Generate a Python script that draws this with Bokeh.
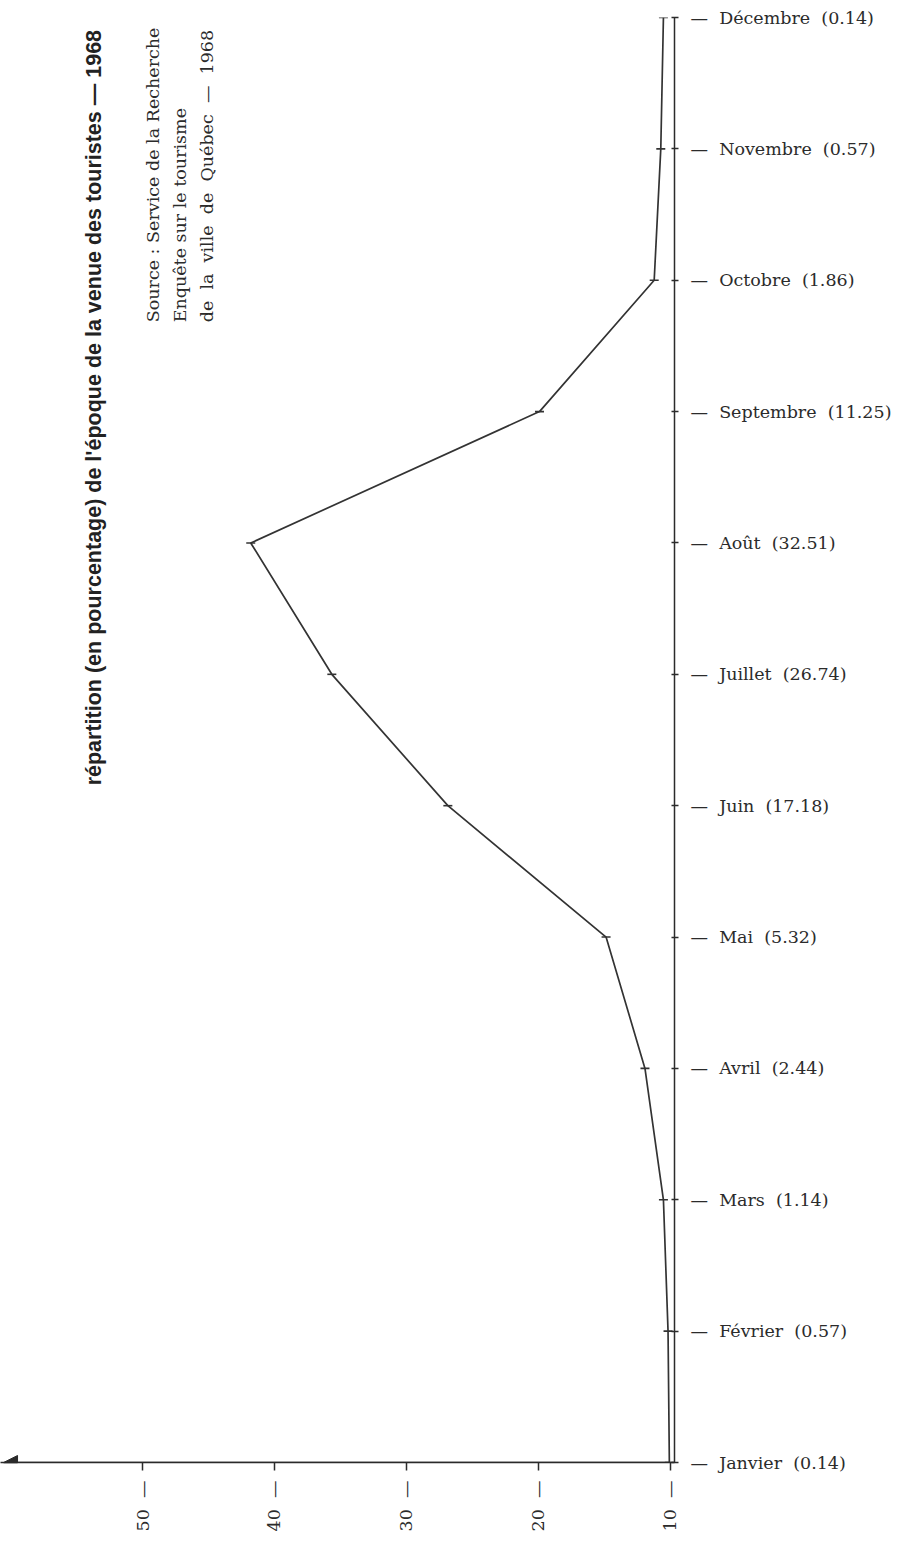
import math
from bokeh.plotting import figure
from bokeh.models import Range1d, FixedTicker, Label, Arrow, NormalHead, ColumnDataSource
from bokeh.embed import file_html
from bokeh.resources import INLINE

# ---- data ----
months = ["Janvier", "Février", "Mars", "Avril", "Mai", "Juin", "Juillet",
          "Août", "Septembre", "Octobre", "Novembre", "Décembre"]
pct_labels = ["0.14", "0.57", "1.14", "2.44", "5.32", "17.18", "26.74",
              "32.51", "11.25", "1.86", "0.57", "0.14"]
# position of the curve read against the printed value scale
plotted = [10.05, 10.15, 10.5, 11.9, 14.85, 26.85, 35.65, 41.8, 19.9, 11.2, 10.7, 10.5]
value_ticks = [10, 20, 30, 40, 50]
title_text = "répartition (en pourcentage) de l'époque de la venue des touristes — 1968"
NB = "\u00a0"
source_lines = ["Source : Service de la Recherche",
                "Enquête sur le tourisme",
                f"de{NB}{NB}la{NB}{NB}ville{NB}{NB}de{NB}{NB}Québec{NB}{NB}—{NB}{NB}1968"]

INK = "#2b2b2b"
SERIF = "DejaVu Serif"

src = ColumnDataSource(dict(v=plotted, idx=list(range(len(months)))))

p = figure(frame_width=674, frame_height=1445,
           x_range=Range1d(60.78, 9.66), y_range=Range1d(0, 11),
           y_axis_location="right", output_backend="svg", toolbar_location=None,
           tools="", min_border_left=0, min_border_top=17, min_border_bottom=0,
           min_border_right=0)
p.outline_line_color = None
p.grid.visible = False
p.background_fill_color = "white"
p.border_fill_color = "white"

# value axis (bottom)
xa = p.xaxis[0]
xa.ticker = FixedTicker(ticks=value_ticks)
xa.major_label_overrides = {t: f"{t}{NB}{NB}—" for t in value_ticks}
xa.major_label_orientation = math.pi / 2
xa.major_tick_out = 8
xa.major_tick_in = 0
xa.minor_tick_out = 0
xa.minor_tick_in = 0
xa.axis_line_width = 1.5
xa.axis_line_color = INK
xa.major_tick_line_color = INK
xa.major_tick_line_width = 1.5
xa.major_label_text_font = SERIF
xa.major_label_text_font_size = "17.5px"
xa.major_label_text_color = INK
xa.major_label_standoff = 10

# month axis (right)
ya = p.yaxis[0]
ya.ticker = FixedTicker(ticks=list(range(len(months))))
ya.major_label_overrides = {i: f"—{NB}{NB}{m}{NB}{NB}({c})"
                            for i, (m, c) in enumerate(zip(months, pct_labels))}
ya.major_tick_out = 4
ya.major_tick_in = 3
ya.minor_tick_out = 0
ya.minor_tick_in = 0
ya.axis_line_width = 1.5
ya.axis_line_color = INK
ya.major_tick_line_color = INK
ya.major_tick_line_width = 1.5
ya.major_label_text_font = SERIF
ya.major_label_text_font_size = "17.5px"
ya.major_label_text_color = INK
ya.major_label_standoff = 12

# arrow on the value axis
p.add_layout(Arrow(end=NormalHead(size=14, fill_color=INK, line_color=INK),
                   x_start=10, y_start=0, x_end=60.55, y_end=0,
                   line_color=INK, line_width=1.5))

# curve
p.line(x="v", y="idx", source=src, line_width=1.7, line_color="#333333")
p.scatter(x="v", y="idx", source=src, marker="dash", size=9,
          line_color="#333333", line_width=1.6)

# title (rotated)
p.add_layout(Label(x=53.7, y=8.03, text=title_text, angle=math.pi / 2,
                   text_align="center", text_baseline="middle",
                   text_font="Liberation Sans", text_font_style="bold",
                   text_font_size="21.5px", text_color="#222222"))

# source (rotated, three lines)
for xv, line in zip([49.2, 47.15, 45.1], source_lines):
    p.add_layout(Label(x=xv, y=8.68, text=line, angle=math.pi / 2,
                       text_align="left", text_baseline="middle",
                       text_font=SERIF, text_font_size="17.5px",
                       text_color=INK))

open("out.html", "w").write(file_html(p, INLINE))
